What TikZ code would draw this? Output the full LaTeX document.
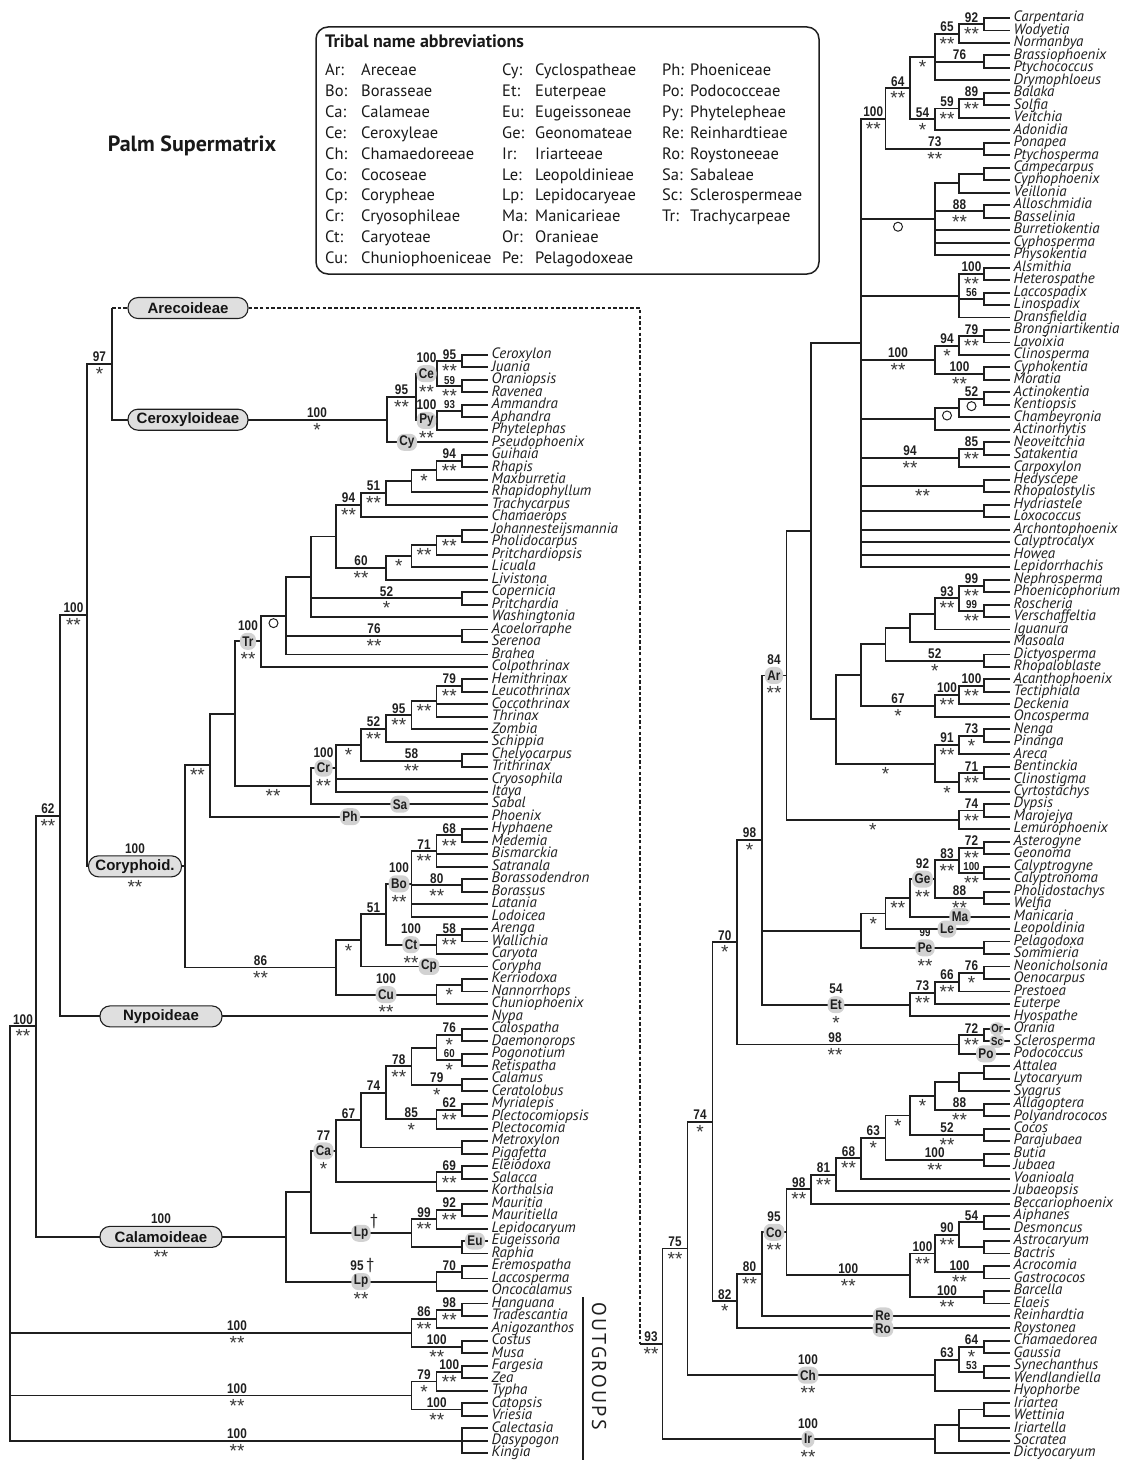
\documentclass[tikz,border=0pt]{standalone}
\usepackage{fontspec}
\setmainfont{PT Sans}
\newfontfamily\PNum{Liberation Sans}[FakeStretch=0.84]
\newfontfamily\PStar{Liberation Sans}
\newfontfamily\PLeaf{PT Sans}
\newfontfamily\PSub{Liberation Sans}
\newfontfamily\POut{PT Sans}[LetterSpace=12]
\usetikzlibrary{calc}
\newcommand\FNum{\PNum\bfseries\fontsize{14}{14}\selectfont}
\newcommand\FNumS{\PNum\bfseries\fontsize{11.5}{12}\selectfont}
\newcommand\FStar{\PStar\fontsize{19}{19}\selectfont}
\newcommand\FLeaf{\PLeaf\itshape\fontsize{15}{15}\selectfont}
\newcommand\FPill{\PNum\bfseries\fontsize{14}{14}\selectfont}
\newcommand\FPillS{\PNum\bfseries\fontsize{11.5}{11.5}\selectfont}
\newcommand\FSub{\PSub\bfseries\fontsize{15}{15}\selectfont}
\newcommand\FLeg{\fontsize{16.5}{17}\selectfont}
\newcommand\StarBox[1]{\raisebox{-0.42em}[0.31em][0pt]{#1}}
\newcounter{lbl}
\tikzset{
 br/.style={line width=1.9pt, draw=black!88},
 leaf/.style={anchor=west, inner xsep=3.5pt, inner ysep=0pt, text height=10.5pt, text depth=3pt, font=\FLeaf, text=black!88},
 num/.style={font=\FNum, inner xsep=0pt, inner ysep=1.8pt, text=black!88},
 nums/.style={num, font=\FNumS},
 stars/.style={font=\FStar, inner xsep=0pt, inner ysep=2.6pt, text=black!78},
 pill/.style={fill=gray!35, rounded corners=7pt, inner xsep=2.5pt, inner ysep=1pt, minimum height=17pt, font=\FPill, text=black!88},
 pills/.style={pill, font=\FPillS, minimum height=13pt, rounded corners=5.5pt, inner xsep=1.5pt},
 sub/.style={draw=black!88, line width=1.1pt, fill=gray!25, rounded corners=10pt, minimum height=21pt, inner xsep=3pt, font=\FSub, text=black!92},
 circ/.style={circle, draw=black!88, line width=1pt, minimum size=9pt, inner sep=0pt},
 dashpat/.style={br, dash pattern=on 3.5pt off 2.2pt},
 leg/.style={anchor=base west, inner sep=0pt, font=\FLeg, text=black!90},
 dag/.style={font=\fontsize{16}{16}\selectfont, inner sep=0pt, anchor=south west, text=black!88},
}
\newcommand\Edg[2]{\foreach \kid in {#2}{\draw[br] (#1) |- (\kid);}}
\newcommand\SvTB[4]{\stepcounter{lbl}\path ($(#1 |- #2)!0.5!(#2)$) node[num,anchor=south] (lt\thelbl) {#3} node[stars,anchor=north] (lb\thelbl) {\StarBox{#4}};}
\newcommand\SvTBs[4]{\stepcounter{lbl}\path ($(#1 |- #2)!0.5!(#2)$) node[nums,anchor=south] (lt\thelbl) {#3} node[stars,anchor=north] (lb\thelbl) {\StarBox{#4}};}
\newcommand\SvT[3]{\stepcounter{lbl}\path ($(#1 |- #2)!0.5!(#2)$) node[num,anchor=south] (lt\thelbl) {#3};}
\newcommand\SvTs[3]{\stepcounter{lbl}\path ($(#1 |- #2)!0.5!(#2)$) node[nums,anchor=south] (lt\thelbl) {#3};}
\newcommand\SvB[3]{\stepcounter{lbl}\path ($(#1 |- #2)!0.5!(#2)$) node[stars,anchor=north] (lb\thelbl) {\StarBox{#3}};}
\newcommand\SvC[2]{\stepcounter{lbl}\path ($(#1 |- #2)!0.5!(#2)$) node[circ,anchor=north,yshift=-2.5pt] (lc\thelbl) {};}
\newcommand\SvAt[3]{\stepcounter{lbl}\path #1 node[num,anchor=south] (lt\thelbl) {#2} node[stars,anchor=north] (lb\thelbl) {\StarBox{#3}};}
\newcommand\PillTB[5]{\node[pill] (#1) at #2 {#3}; \node[num,anchor=south] (#1t) at (#1.north) {#4}; \node[stars,anchor=north,inner ysep=1.6pt] (#1b) at (#1.south) {\StarBox{#5}};}
\newcommand\Pill[3]{\node[pill] (#1) at #2 {#3};}

\begin{document}
\begin{tikzpicture}[x=1pt,y=-1pt]
\useasboundingbox (0,0) rectangle (1128,1461);

% ---------- title and legend ----------
\node[font=\bfseries\fontsize{22}{23}\selectfont, text=black!90] (ttl) at (192,146) {Palm Supermatrix};
\draw[line width=1.5pt, rounded corners=12pt, draw=black!88] (316,27) rectangle (819,274);
\node[leg, font=\bfseries\fontsize{18}{19}\selectfont] (lgt) at (325,48) {Tribal name abbreviations};
\foreach \a/\b [count=\i from 0] in {Ar/Areceae, Bo/Borasseae, Ca/Calameae, Ce/Ceroxyleae, Ch/Chamaedoreeae, Co/Cocoseae, Cp/Corypheae, Cr/Cryosophileae, Ct/Caryoteae, Cu/Chuniophoeniceae}
 {\node[leg] (gAa\i) at (325,{76+20.8*\i}) {\a:}; \node[leg] (gAb\i) at (361,{76+20.8*\i}) {\b};}
\foreach \a/\b [count=\i from 0] in {Cy/Cyclospatheae, Et/Euterpeae, Eu/Eugeissoneae, Ge/Geonomateae, Ir/Iriarteeae, Le/Leopoldinieae, Lp/Lepidocaryeae, Ma/Manicarieae, Or/Oranieae, Pe/Pelagodoxeae}
 {\node[leg] (gBa\i) at (502,{76+20.8*\i}) {\a:}; \node[leg] (gBb\i) at (535,{76+20.8*\i}) {\b};}
\foreach \a/\b [count=\i from 0] in {Ph/Phoeniceae, Po/Podococceae, Py/Phytelepheae, Re/Reinhardtieae, Ro/Roystoneeae, Sa/Sabaleae, Sc/Sclerospermeae, Tr/Trachycarpeae}
 {\node[leg] (gCa\i) at (662,{76+20.8*\i}) {\a:}; \node[leg] (gCb\i) at (690,{76+20.8*\i}) {\b};}

% ---------- OUTGROUPS bracket ----------
\draw[line width=1.5pt, draw=black!88] (583,1297) -- (583,1460);
\node[rotate=-90, font=\POut\fontsize{20}{20}\selectfont, text=black!88] (outg) at (599,1366) {OUTGROUPS};

\begin{scope}[x=1pt, y=-12.48pt, yshift=-18pt]
% ---------- leaves ----------
\foreach \n [count=\i from 27] in {Ceroxylon, Juania, Oraniopsis, Ravenea, Ammandra, Aphandra, Phytelephas, Pseudophoenix, Guihaia, Rhapis, Maxburretia, Rhapidophyllum, Trachycarpus, Chamaerops, Johannesteijsmannia, Pholidocarpus, Pritchardiopsis, Licuala, Livistona, Copernicia, Pritchardia, Washingtonia, Acoelorraphe, Serenoa, Brahea, Colpothrinax, Hemithrinax, Leucothrinax, Coccothrinax, Thrinax, Zombia, Schippia, Chelyocarpus, Trithrinax, Cryosophila, Itaya, Sabal, Phoenix, Hyphaene, Medemia, Bismarckia, Satranala, Borassodendron, Borassus, Latania, Lodoicea, Arenga, Wallichia, Caryota, Corypha, Kerriodoxa, Nannorrhops, Chuniophoenix, Nypa, Calospatha, Daemonorops, Pogonotium, Retispatha, Calamus, Ceratolobus, Myrialepis, Plectocomiopsis, Plectocomia, Metroxylon, Pigafetta, Eleiodoxa, Salacca, Korthalsia, Mauritia, Mauritiella, Lepidocaryum, Eugeissona, Raphia, Eremospatha, Laccosperma, Oncocalamus, Hanguana, Tradescantia, Anigozanthos, Costus, Musa, Fargesia, Zea, Typha, Catopsis, Vriesia, Calectasia, Dasypogon, Kingia}
 {\node[leaf] (\n) at (488,\i) {\n};}
\foreach \n [count=\i from 0] in {Carpentaria, Wodyetia, Normanbya, Brassiophoenix, Ptychococcus, Drymophloeus, Balaka, Solfia, Veitchia, Adonidia, Ponapea, Ptychosperma, Campecarpus, Cyphophoenix, Veillonia, Alloschmidia, Basselinia, Burretiokentia, Cyphosperma, Physokentia, Alsmithia, Heterospathe, Laccospadix, Linospadix, Dransfieldia, Brongniartikentia, Lavoixia, Clinosperma, Cyphokentia, Moratia, Actinokentia, Kentiopsis, Chambeyronia, Actinorhytis, Neoveitchia, Satakentia, Carpoxylon, Hedyscepe, Rhopalostylis, Hydriastele, Loxococcus, Archontophoenix, Calyptrocalyx, Howea, Lepidorrhachis, Nephrosperma, Phoenicophorium, Roscheria, Verschaffeltia, Iguanura, Masoala, Dictyosperma, Rhopaloblaste, Acanthophoenix, Tectiphiala, Deckenia, Oncosperma, Nenga, Pinanga, Areca, Bentinckia, Clinostigma, Cyrtostachys, Dypsis, Marojejya, Lemurophoenix, Asterogyne, Geonoma, Calyptrogyne, Calyptronoma, Pholidostachys, Welfia, Manicaria, Leopoldinia, Pelagodoxa, Sommieria, Neonicholsonia, Oenocarpus, Prestoea, Euterpe, Hyospathe, Orania, Sclerosperma, Podococcus, Attalea, Lytocaryum, Syagrus, Allagoptera, Polyandrococos, Cocos, Parajubaea, Butia, Jubaea, Voanioala, Jubaeopsis, Beccariophoenix, Aiphanes, Desmoncus, Astrocaryum, Bactris, Acrocomia, Gastrococos, Barcella, Elaeis, Reinhardtia, Roystonea, Chamaedorea, Gaussia, Synechanthus, Wendlandiella, Hyophorbe, Iriartea, Wettinia, Iriartella, Socratea, Dictyocaryum}
 {\node[leaf] (\n) at (1010,\i) {\n};}

% ---------- left tree internal nodes ----------
\coordinate (CeJ) at (462,27.5); \coordinate (OrRa) at (462,29.5); \coordinate (Ce) at (437,28.5);
\coordinate (AmAp) at (462,31.5); \coordinate (Py) at (437,32.25); \coordinate (CePy) at (416,30.375); \coordinate (Cy) at (387,32.1875);
\coordinate (GuRh) at (462,35.5); \coordinate (tA) at (436.5,36.25); \coordinate (tB) at (411.5,37.125); \coordinate (tC) at (386,38.0625); \coordinate (tD) at (361,39.03125);
\coordinate (JoPh) at (462,41.5); \coordinate (tE) at (436.5,42.25); \coordinate (tF) at (411.5,43.125); \coordinate (tG) at (386,44.0625); \coordinate (tH) at (336,41.546875);
\coordinate (CoPr) at (462,46.5); \coordinate (tI) at (311,44.7734); \coordinate (AcSe) at (462,49.5); \coordinate (tJ) at (286,47.8867); \coordinate (Tr) at (261,49.9434);
\coordinate (HeLe) at (462,53.5); \coordinate (cA) at (436.5,54.75); \coordinate (cB) at (411.5,55.875); \coordinate (cC) at (386,56.9375); \coordinate (ChTr) at (462,59.5);
\coordinate (cD) at (361,58.21875); \coordinate (Cr) at (336,60.1094); \coordinate (cE) at (311,61.5547); \coordinate (cF) at (235,55.749); \coordinate (cG) at (210,59.8745);
\coordinate (HyMe) at (462,65.5); \coordinate (bA) at (436.5,66.75); \coordinate (BoBo) at (462,69.5); \coordinate (Bo) at (411.5,69.375); \coordinate (ArWa) at (462,73.5);
\coordinate (Ct) at (436.5,74.25); \coordinate (bB) at (386,71.8125); \coordinate (bC) at (361,73.906); \coordinate (KeNa) at (462,77.5); \coordinate (Cu) at (436.5,78.25);
\coordinate (bD) at (336,76.078); \coordinate (Cor) at (185,67.9765);
\coordinate (nA) at (112,27.714); \coordinate (nB) at (87,47.845); \coordinate (nC) at (60,63.9225);
\coordinate (CaDa) at (462,81.5); \coordinate (PoRe) at (462,83.5); \coordinate (kA) at (436.5,82.5); \coordinate (CaCe) at (462,85.5); \coordinate (kB) at (411.5,84);
\coordinate (MyPl) at (462,87.5); \coordinate (kC) at (436.5,88.25); \coordinate (kD) at (386,86.125); \coordinate (MePi) at (462,90.5); \coordinate (kE) at (361,88.3125);
\coordinate (ElSa) at (462,92.5); \coordinate (kF) at (436.5,93.25); \coordinate (Ca) at (336,90.78125); \coordinate (MaMa) at (462,95.5); \coordinate (kG) at (436.5,96.25);
\coordinate (EuRa) at (462,98.5); \coordinate (LpA) at (411.5,97.375); \coordinate (kH) at (311,94.078); \coordinate (ErLa) at (462,100.5); \coordinate (LpB) at (436.5,101.25);
\coordinate (Cal) at (286,97.664); \coordinate (nD) at (36,80.793);
\coordinate (HaTr) at (462,103.5); \coordinate (oA) at (436.5,104.25); \coordinate (CoMu) at (462,106.5); \coordinate (oB) at (411.5,105.375);
\coordinate (FaZe) at (462,108.5); \coordinate (oC) at (436.5,109.25); \coordinate (CaVr) at (462,111.5); \coordinate (oD) at (411.5,110.375); \coordinate (oE) at (462,114);
\coordinate (root) at (10,97.3965);

% ---------- right tree internal nodes ----------
\coordinate (CaWo) at (984,0.5); \coordinate (rA) at (959,1.25); \coordinate (BrPt) at (984,3.5); \coordinate (rB) at (935,3.125); \coordinate (BaSo) at (984,6.5);
\coordinate (rC) at (959,7.25); \coordinate (rD) at (935,8.125); \coordinate (rE) at (910,5.625); \coordinate (PoPt) at (984,10.5); \coordinate (rF) at (885.5,8.0625);
\coordinate (CaCy) at (984,12.5); \coordinate (rG) at (959,13.25); \coordinate (AlBa) at (984,15.5); \coordinate (rH) at (935,16.125);
\coordinate (AlHe) at (984,20.5); \coordinate (LaLi) at (984,22.5); \coordinate (rI) at (959,22.25); \coordinate (BrLa) at (984,25.5); \coordinate (rJ) at (959,26.25);
\coordinate (CyMo) at (984,28.5); \coordinate (rK) at (935,27.375); \coordinate (AcKe) at (984,30.5); \coordinate (rL) at (959,31.25); \coordinate (rM) at (935,32.125);
\coordinate (NeSa) at (984,34.5); \coordinate (rN) at (959,35.25); \coordinate (HeRh) at (984,37.5); \coordinate (HyLo) at (984,39.5); \coordinate (rO) at (861,26.03125);
\coordinate (NePh) at (984,45.5); \coordinate (RoVe) at (984,47.5); \coordinate (rP) at (959,46.5); \coordinate (rQ) at (935,47.75); \coordinate (rR) at (910,48.875);
\coordinate (DiRh) at (984,51.5); \coordinate (rS) at (885.5,50.1875); \coordinate (AcTe) at (984,53.5); \coordinate (rT) at (959,54.25); \coordinate (rU) at (935,55.125);
\coordinate (rV) at (861,52.65625); \coordinate (NePi) at (984,57.5); \coordinate (rW) at (959,58.25); \coordinate (BeCl) at (984,60.5); \coordinate (rX) at (959,61.25);
\coordinate (rY) at (935,59.75); \coordinate (rZ) at (836,56.2031); \coordinate (sA) at (811,41.1172); \coordinate (DyMa) at (984,63.5); \coordinate (sB) at (959,64.25);
\coordinate (Ar) at (786.5,52.6836);
\coordinate (AsGe) at (984,66.5); \coordinate (CaCa) at (984,68.5); \coordinate (sC) at (959,67.5); \coordinate (PhWe) at (984,70.5); \coordinate (Ge) at (935,69);
\coordinate (sD) at (910,70.5); \coordinate (sE) at (885.5,71.75); \coordinate (PeSo) at (984,74.5); \coordinate (sF) at (861,73.125);
\coordinate (NeOe) at (984,76.5); \coordinate (sG) at (959,77.25); \coordinate (sH) at (935,78.125); \coordinate (Et) at (910,79.0625); \coordinate (sI) at (762,65.873);
\coordinate (OrSc) at (984,81.5); \coordinate (sJ) at (959,82.25); \coordinate (sK) at (737,74.0615);
\coordinate (AtLy) at (984,84.5); \coordinate (sL) at (959,85.25); \coordinate (AlPo) at (984,87.5); \coordinate (sM) at (935,86.375); \coordinate (CoPa) at (984,89.5);
\coordinate (sN) at (910,87.9375); \coordinate (BuJu) at (984,91.5); \coordinate (sO) at (885.5,89.71875); \coordinate (sP) at (861,91.359); \coordinate (sQ) at (836,92.68);
\coordinate (sR) at (811,93.84); \coordinate (AiDe) at (984,96.5); \coordinate (AsBa) at (984,98.5); \coordinate (sS) at (959,97.5); \coordinate (AcGa) at (984,100.5);
\coordinate (sT) at (935,99); \coordinate (BaEl) at (984,102.5); \coordinate (sU) at (910,100.75); \coordinate (Co) at (786.5,97.295); \coordinate (sV) at (762,100.6475);
\coordinate (sW) at (737,102.824); \coordinate (sX) at (712.5,88.443); \coordinate (ChGa) at (984,106.5); \coordinate (SyWe) at (984,108.5); \coordinate (sY) at (959,107.5);
\coordinate (Ch) at (935,108.75); \coordinate (sZ) at (687.5,98.596); \coordinate (IrWe) at (984,111.5); \coordinate (uA) at (959,112.75); \coordinate (Ir) at (935,113.875);
\coordinate (rroot) at (662.5,106.236); \coordinate (jct) at (640,106.236);

% ---------- left tree branches ----------
\Edg{CeJ}{Ceroxylon,Juania} \Edg{OrRa}{Oraniopsis,Ravenea} \Edg{Ce}{CeJ,OrRa}
\Edg{AmAp}{Ammandra,Aphandra} \Edg{Py}{AmAp,Phytelephas} \Edg{CePy}{Ce,Py} \Edg{Cy}{CePy,Pseudophoenix}
\Edg{GuRh}{Guihaia,Rhapis} \Edg{tA}{GuRh,Maxburretia} \Edg{tB}{tA,Rhapidophyllum} \Edg{tC}{tB,Trachycarpus} \Edg{tD}{tC,Chamaerops}
\Edg{JoPh}{Johannesteijsmannia,Pholidocarpus} \Edg{tE}{JoPh,Pritchardiopsis} \Edg{tF}{tE,Licuala} \Edg{tG}{tF,Livistona} \Edg{tH}{tD,tG}
\Edg{CoPr}{Copernicia,Pritchardia} \Edg{tI}{tH,CoPr,Washingtonia} \Edg{AcSe}{Acoelorraphe,Serenoa} \Edg{tJ}{tI,AcSe,Brahea} \Edg{Tr}{tJ,Colpothrinax}
\Edg{HeLe}{Hemithrinax,Leucothrinax} \Edg{cA}{HeLe,Coccothrinax,Thrinax} \Edg{cB}{cA,Zombia} \Edg{cC}{cB,Schippia}
\Edg{ChTr}{Chelyocarpus,Trithrinax} \Edg{cD}{cC,ChTr} \Edg{Cr}{cD,Cryosophila,Itaya} \Edg{cE}{Cr,Sabal} \Edg{cF}{Tr,cE} \Edg{cG}{cF,Phoenix}
\Edg{HyMe}{Hyphaene,Medemia} \Edg{bA}{HyMe,Bismarckia,Satranala} \Edg{BoBo}{Borassodendron,Borassus} \Edg{Bo}{bA,BoBo,Latania,Lodoicea}
\Edg{ArWa}{Arenga,Wallichia} \Edg{Ct}{ArWa,Caryota} \Edg{bB}{Bo,Ct} \Edg{bC}{bB,Corypha} \Edg{KeNa}{Kerriodoxa,Nannorrhops} \Edg{Cu}{KeNa,Chuniophoenix}
\Edg{bD}{bC,Cu} \Edg{Cor}{cG,bD}
\Edg{nA}{Cy} \Edg{nB}{nA,Cor} \Edg{nC}{nB,Nypa}
\Edg{CaDa}{Calospatha,Daemonorops} \Edg{PoRe}{Pogonotium,Retispatha} \Edg{kA}{CaDa,PoRe} \Edg{CaCe}{Calamus,Ceratolobus} \Edg{kB}{kA,CaCe}
\Edg{MyPl}{Myrialepis,Plectocomiopsis} \Edg{kC}{MyPl,Plectocomia} \Edg{kD}{kB,kC} \Edg{MePi}{Metroxylon,Pigafetta} \Edg{kE}{kD,MePi}
\Edg{ElSa}{Eleiodoxa,Salacca} \Edg{kF}{ElSa,Korthalsia} \Edg{Ca}{kE,kF} \Edg{MaMa}{Mauritia,Mauritiella} \Edg{kG}{MaMa,Lepidocaryum}
\Edg{EuRa}{Eugeissona,Raphia} \Edg{LpA}{kG,EuRa} \Edg{kH}{Ca,LpA} \Edg{ErLa}{Eremospatha,Laccosperma} \Edg{LpB}{ErLa,Oncocalamus} \Edg{Cal}{kH,LpB}
\Edg{nD}{nC,Cal}
\Edg{HaTr}{Hanguana,Tradescantia} \Edg{oA}{HaTr,Anigozanthos} \Edg{CoMu}{Costus,Musa} \Edg{oB}{oA,CoMu}
\Edg{FaZe}{Fargesia,Zea} \Edg{oC}{FaZe,Typha} \Edg{CaVr}{Catopsis,Vriesia} \Edg{oD}{oC,CaVr} \Edg{oE}{Calectasia,Dasypogon,Kingia}
\Edg{root}{nD,oB,oD,oE}

% ---------- right tree branches ----------
\Edg{CaWo}{Carpentaria,Wodyetia} \Edg{rA}{CaWo,Normanbya} \Edg{BrPt}{Brassiophoenix,Ptychococcus} \Edg{rB}{rA,BrPt,Drymophloeus}
\Edg{BaSo}{Balaka,Solfia} \Edg{rC}{BaSo,Veitchia} \Edg{rD}{rC,Adonidia} \Edg{rE}{rB,rD} \Edg{PoPt}{Ponapea,Ptychosperma} \Edg{rF}{rE,PoPt}
\Edg{CaCy}{Campecarpus,Cyphophoenix} \Edg{rG}{CaCy,Veillonia} \Edg{AlBa}{Alloschmidia,Basselinia} \Edg{rH}{rG,AlBa,Burretiokentia,Cyphosperma,Physokentia}
\Edg{AlHe}{Alsmithia,Heterospathe} \Edg{LaLi}{Laccospadix,Linospadix} \Edg{rI}{AlHe,LaLi,Dransfieldia}
\Edg{BrLa}{Brongniartikentia,Lavoixia} \Edg{rJ}{BrLa,Clinosperma} \Edg{CyMo}{Cyphokentia,Moratia} \Edg{rK}{rJ,CyMo}
\Edg{AcKe}{Actinokentia,Kentiopsis} \Edg{rL}{AcKe,Chambeyronia} \Edg{rM}{rL,Actinorhytis} \Edg{NeSa}{Neoveitchia,Satakentia} \Edg{rN}{NeSa,Carpoxylon}
\Edg{HeRh}{Hedyscepe,Rhopalostylis} \Edg{HyLo}{Hydriastele,Loxococcus}
\Edg{rO}{rF,rH,rI,rK,rM,rN,HeRh,HyLo,Archontophoenix,Calyptrocalyx,Howea,Lepidorrhachis}
\Edg{NePh}{Nephrosperma,Phoenicophorium} \Edg{RoVe}{Roscheria,Verschaffeltia} \Edg{rP}{NePh,RoVe} \Edg{rQ}{rP,Iguanura} \Edg{rR}{rQ,Masoala}
\Edg{DiRh}{Dictyosperma,Rhopaloblaste} \Edg{rS}{rR,DiRh} \Edg{AcTe}{Acanthophoenix,Tectiphiala} \Edg{rT}{AcTe,Deckenia} \Edg{rU}{rT,Oncosperma} \Edg{rV}{rS,rU}
\Edg{NePi}{Nenga,Pinanga} \Edg{rW}{NePi,Areca} \Edg{BeCl}{Bentinckia,Clinostigma} \Edg{rX}{BeCl,Cyrtostachys} \Edg{rY}{rW,rX} \Edg{rZ}{rV,rY} \Edg{sA}{rO,rZ}
\Edg{DyMa}{Dypsis,Marojejya} \Edg{sB}{DyMa,Lemurophoenix} \Edg{Ar}{sA,sB}
\Edg{AsGe}{Asterogyne,Geonoma} \Edg{CaCa}{Calyptrogyne,Calyptronoma} \Edg{sC}{AsGe,CaCa} \Edg{PhWe}{Pholidostachys,Welfia} \Edg{Ge}{sC,PhWe}
\Edg{sD}{Ge,Manicaria} \Edg{sE}{sD,Leopoldinia} \Edg{PeSo}{Pelagodoxa,Sommieria} \Edg{sF}{sE,PeSo}
\Edg{NeOe}{Neonicholsonia,Oenocarpus} \Edg{sG}{NeOe,Prestoea} \Edg{sH}{sG,Euterpe} \Edg{Et}{sH,Hyospathe} \Edg{sI}{Ar,sF,Et}
\Edg{OrSc}{Orania,Sclerosperma} \Edg{sJ}{OrSc,Podococcus} \Edg{sK}{sI,sJ}
\Edg{AtLy}{Attalea,Lytocaryum} \Edg{sL}{AtLy,Syagrus} \Edg{AlPo}{Allagoptera,Polyandrococos} \Edg{sM}{sL,AlPo} \Edg{CoPa}{Cocos,Parajubaea} \Edg{sN}{sM,CoPa}
\Edg{BuJu}{Butia,Jubaea} \Edg{sO}{sN,BuJu} \Edg{sP}{sO,Voanioala} \Edg{sQ}{sP,Jubaeopsis} \Edg{sR}{sQ,Beccariophoenix}
\Edg{AiDe}{Aiphanes,Desmoncus} \Edg{AsBa}{Astrocaryum,Bactris} \Edg{sS}{AiDe,AsBa} \Edg{AcGa}{Acrocomia,Gastrococos} \Edg{sT}{sS,AcGa}
\Edg{BaEl}{Barcella,Elaeis} \Edg{sU}{sT,BaEl} \Edg{Co}{sR,sU} \Edg{sV}{Co,Reinhardtia} \Edg{sW}{sV,Roystonea} \Edg{sX}{sK,sW}
\Edg{ChGa}{Chamaedorea,Gaussia} \Edg{SyWe}{Synechanthus,Wendlandiella} \Edg{sY}{ChGa,SyWe} \Edg{Ch}{sY,Hyophorbe} \Edg{sZ}{sX,Ch}
\Edg{IrWe}{Iriartea,Wettinia} \Edg{uA}{IrWe,Iriartella,Socratea} \Edg{Ir}{uA,Dictyocaryum} \Edg{rroot}{sZ,Ir}

% ---------- subfamily pills and Arecoideae link ----------
\node[sub, minimum width=120pt] (pAre) at (188,23.24) {Arecoideae};
\node[sub, minimum width=120pt] (pCer) at (188,32.1875) {Ceroxyloideae};
\node[sub, minimum width=93pt] (pCor) at (135,67.9765) {Coryphoid.};
\node[num,anchor=south] (pCort) at (pCor.north) {100}; \node[stars,anchor=north,inner ysep=1.6pt] (pCorb) at (pCor.south) {\StarBox{**}};
\node[sub, minimum width=122pt] (pNyp) at (161,80) {Nypoideae};
\node[sub, minimum width=122pt] (pCal) at (161,97.664) {Calamoideae};
\node[num,anchor=south] (pCalt) at (pCal.north) {100}; \node[stars,anchor=north,inner ysep=1.6pt] (pCalb) at (pCal.south) {\StarBox{**}};
\coordinate (nAtop) at (112,23.24);
\draw[br] (nA) -- (nAtop);
\draw[dashpat] (nAtop) -- (pAre.west);
\draw[dashpat] (pAre.east) -| (jct);
\draw[br] (jct) -- (rroot);

% ---------- left tree labels ----------
\SvTB{Ce}{CeJ}{95}{**} \SvTBs{Ce}{OrRa}{59}{**} \SvTs{Py}{AmAp}{93} \SvTB{Cy}{CePy}{95}{**}
\PillTB{pCe}{(426.5,28.5)}{Ce}{100}{**}
\PillTB{pPy}{(426.5,32.25)}{Py}{100}{**}
\Pill{pCy}{(407,34)}{Cy}
\SvAt{(317,32.1875)}{100}{*}
\SvTB{tA}{GuRh}{94}{**} \SvB{tB}{tA}{*} \SvTB{tD}{tC}{51}{**} \SvTB{tH}{tD}{94}{**}
\SvB{tE}{JoPh}{**} \SvB{tF}{tE}{**} \SvB{tG}{tF}{*} \SvTB{tH}{tG}{60}{**}
\SvTB{tI}{CoPr}{52}{*} \SvTB{tJ}{AcSe}{76}{**} \SvC{Tr}{tJ}
\PillTB{pTr}{(248,49.9434)}{Tr}{100}{**}
\SvTB{cA}{HeLe}{79}{**} \SvB{cB}{cA}{**} \SvTB{cC}{cB}{95}{**} \SvTB{cD}{cC}{52}{**} \SvTB{cD}{ChTr}{58}{**} \SvB{Cr}{cD}{*}
\PillTB{pCr}{(323.5,60.1094)}{Cr}{100}{**}
\SvB{cF}{cE}{**} \Pill{pSa}{(400,63)}{Sa}
\SvB{Cor}{cG}{**} \Pill{pPh}{(350,64)}{Ph}
\SvTB{bA}{HyMe}{68}{**} \SvTB{Bo}{bA}{71}{**} \SvTB{Bo}{BoBo}{80}{**}
\PillTB{pBo}{(399,69.375)}{Bo}{100}{**}
\SvTB{Ct}{ArWa}{58}{**}
\PillTB{pCt}{(411,74.25)}{Ct}{100}{**}
\SvT{bC}{bB}{51} \SvB{bD}{bC}{*} \Pill{pCp}{(429,76)}{Cp}
\SvB{Cu}{KeNa}{*}
\PillTB{pCu}{(386,78.25)}{Cu}{100}{**}
\SvTB{Cor}{bD}{86}{**}
\SvTB{nB}{nA}{97}{*} \SvTB{nC}{nB}{100}{**} \SvTB{nD}{nC}{62}{**} \SvTB{root}{nD}{100}{**}
\SvTB{kA}{CaDa}{76}{*} \SvTBs{kA}{PoRe}{60}{*} \SvTB{kB}{CaCe}{79}{*} \SvTB{kD}{kB}{78}{**}
\SvTB{kC}{MyPl}{62}{**} \SvTB{kD}{kC}{85}{*} \SvT{kE}{kD}{74} \SvT{Ca}{kE}{67} \SvTB{kF}{ElSa}{69}{**}
\PillTB{pCa}{(323.5,90.78125)}{Ca}{77}{*}
\SvTB{kG}{MaMa}{92}{**} \SvTB{LpA}{kG}{99}{**}
\Pill{pLpA}{(361,97.375)}{Lp}
\node[dag] (dgA) at ($(pLpA.north east)+(-1pt,-4pt)$) {†};
\Pill{pEu}{(475,98)}{Eu}
\SvT{LpB}{ErLa}{70}
\Pill{pLpB}{(361,101.25)}{Lp}
\node[num,anchor=south] (pLpBt) at ($(pLpB.north)+(-4pt,0)$) {95};
\node[stars,anchor=north,inner ysep=1.6pt] (pLpBb) at (pLpB.south) {\StarBox{**}};
\node[dag] (dgB) at ($(pLpBt.south east)+(2.5pt,0pt)$) {†};
\SvTB{oA}{HaTr}{98}{**} \SvTB{oB}{oA}{86}{**} \SvTB{oB}{CoMu}{100}{**}
\SvTB{oC}{FaZe}{100}{**} \SvTB{oD}{oC}{79}{*} \SvTB{oD}{CaVr}{100}{**}
\SvAt{(237,105.375)}{100}{**} \SvAt{(237,110.375)}{100}{**} \SvAt{(237,114)}{100}{**}

% ---------- right tree labels ----------
\SvTB{rA}{CaWo}{92}{**} \SvTB{rB}{rA}{65}{**} \SvT{rB}{BrPt}{76} \SvB{rE}{rB}{*}
\SvTB{rC}{BaSo}{89}{**} \SvTB{rD}{rC}{59}{**} \SvTB{rE}{rD}{54}{*} \SvTB{rF}{rE}{64}{**}
\SvTB{rF}{PoPt}{73}{**} \SvTB{rO}{rF}{100}{**}
\SvTB{rH}{AlBa}{88}{**} \SvC{rO}{rH}
\SvTB{rI}{AlHe}{100}{**} \SvTs{rI}{LaLi}{56}
\SvTB{rJ}{BrLa}{79}{**} \SvTB{rK}{rJ}{94}{*} \SvTB{rK}{CyMo}{100}{**} \SvTB{rO}{rK}{100}{**}
\SvT{rL}{AcKe}{52} \SvC{rL}{AcKe} \SvC{rM}{rL}
\SvTB{rN}{NeSa}{85}{**} \SvTB{rO}{rN}{94}{**} \SvB{rO}{HeRh}{**}
\SvTB{rP}{NePh}{99}{**} \SvTBs{rP}{RoVe}{99}{**} \SvTB{rQ}{rP}{93}{**}
\SvTB{rS}{DiRh}{52}{*} \SvTB{rT}{AcTe}{100}{**} \SvTB{rU}{rT}{100}{**} \SvTB{rV}{rU}{67}{*}
\SvTB{rW}{NePi}{73}{*} \SvTB{rY}{rW}{91}{**} \SvTB{rX}{BeCl}{71}{**} \SvB{rY}{rX}{*} \SvB{rZ}{rY}{*}
\SvTB{sB}{DyMa}{74}{**} \SvB{Ar}{sB}{*}
\PillTB{pAr}{(774,52.6836)}{Ar}{84}{**}
\SvTB{sC}{AsGe}{72}{**} \SvTBs{sC}{CaCa}{100}{**} \SvTB{Ge}{sC}{83}{**} \SvTB{Ge}{PhWe}{88}{**}
\PillTB{pGe}{(922.5,69)}{Ge}{92}{**}
\SvB{sE}{sD}{**} \Pill{pMa}{(960,72)}{Ma}
\SvB{sF}{sE}{*} \Pill{pLe}{(947,73)}{Le}
\Pill{pPe}{(925,74.5)}{Pe}
\node[nums,anchor=south] (pPet) at (pPe.north) {99}; \node[stars,anchor=north,inner ysep=1.6pt] (pPeb) at (pPe.south) {\StarBox{**}};
\SvTB{sG}{NeOe}{76}{*} \SvTB{sH}{sG}{66}{**} \SvTB{Et}{sH}{73}{**}
\PillTB{pEt}{(836,79.0625)}{Et}{54}{*}
\SvTB{sK}{sI}{98}{*}
\SvTB{sJ}{OrSc}{72}{**} \SvAt{(835,82.25)}{98}{**}
\node[pills] (pOr) at (997,81) {Or}; \node[pills] (pSc) at (997,82) {Sc};
\Pill{pPo}{(986,83)}{Po}
\SvTB{sX}{sK}{70}{*}
\SvTB{sM}{AlPo}{88}{**} \SvB{sN}{sM}{*} \SvTB{sN}{CoPa}{52}{**} \SvB{sO}{sN}{*}
\SvTB{sO}{BuJu}{100}{**} \SvTB{sP}{sO}{63}{*} \SvTB{sQ}{sP}{68}{**} \SvTB{sR}{sQ}{81}{**} \SvTB{Co}{sR}{98}{**}
\SvT{sS}{AiDe}{54} \SvTB{sT}{sS}{90}{**} \SvTB{sT}{AcGa}{100}{**} \SvTB{sU}{sT}{100}{**} \SvTB{sU}{BaEl}{100}{**} \SvTB{Co}{sU}{100}{**}
\PillTB{pCo}{(774,97.295)}{Co}{95}{**}
\SvTB{sW}{sV}{80}{**} \Pill{pRe}{(883,104)}{Re}
\SvTB{sX}{sW}{82}{*} \Pill{pRo}{(883,105)}{Ro}
\SvTB{sZ}{sX}{74}{*}
\SvTB{sY}{ChGa}{64}{*} \SvTs{sY}{SyWe}{53} \SvT{Ch}{sY}{63}
\PillTB{pCh}{(808,108.75)}{Ch}{100}{**}
\SvTB{rroot}{sZ}{75}{**}
\PillTB{pIr}{(808,113.875)}{Ir}{100}{**}
\SvAt{(651,106.236)}{93}{**}
\end{scope}
\end{tikzpicture}
\end{document}
